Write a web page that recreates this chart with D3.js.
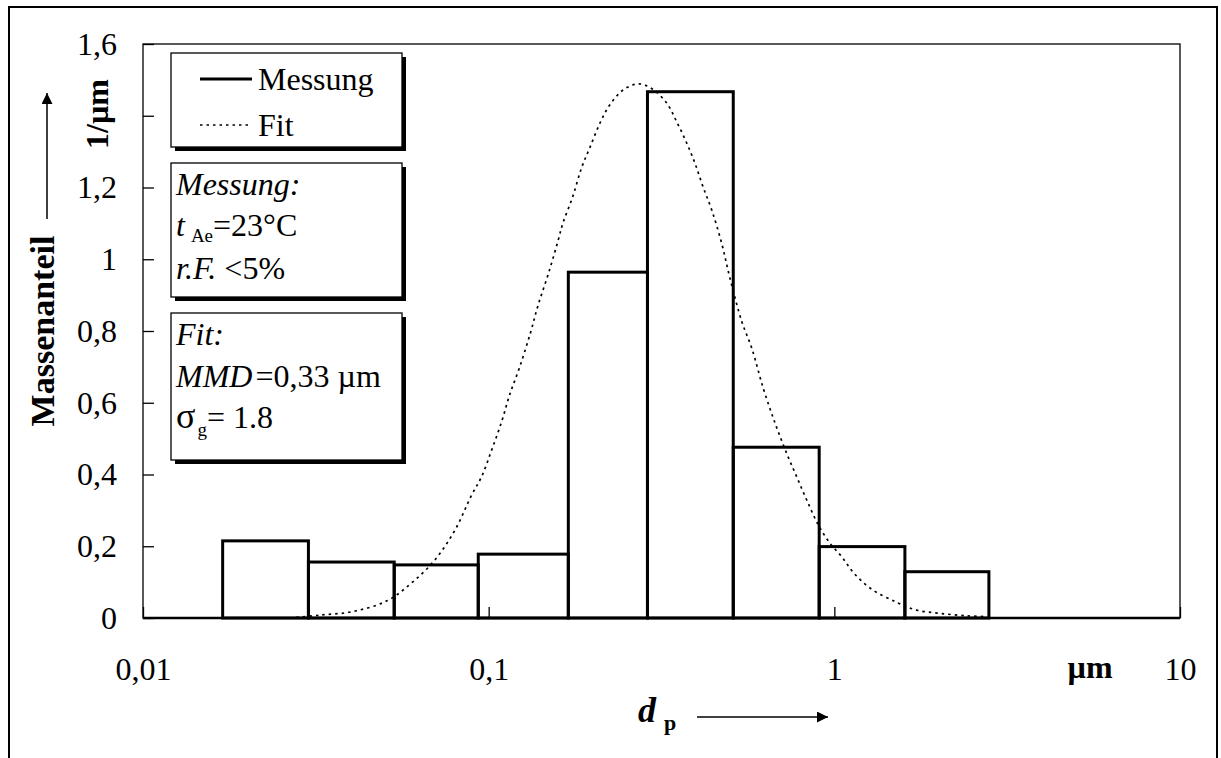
<!DOCTYPE html>
<html>
<head>
<meta charset="utf-8">
<script src="https://cdn.jsdelivr.net/npm/d3@7"></script>
<style>
  body { margin: 0; background: #fff; }
  svg { display: block; font-family: "Liberation Serif", "Times New Roman", serif; }
</style>
</head>
<body>
<div id="chart"></div>
<script>
// bin edges of the measured distribution (µm)
const binEdges = [0.0170, 0.0301, 0.0533, 0.0933, 0.170, 0.288, 0.510, 0.904, 1.60, 2.80];
// mass fraction per bin (1/µm)
const binValues = [0.215, 0.156, 0.148, 0.178, 0.964, 1.467, 0.476, 0.199, 0.129];

// fit curve
const fitD = [0.0266, 0.0325, 0.0405, 0.0508, 0.0599, 0.0699, 0.0799, 0.0893, 0.0954, 0.102,
  0.109, 0.115, 0.123, 0.132, 0.139, 0.149, 0.159, 0.164, 0.175, 0.186,
  0.196, 0.210, 0.224, 0.245, 0.271, 0.296, 0.327, 0.350, 0.374, 0.395,
  0.417, 0.442, 0.472, 0.499, 0.540, 0.577, 0.623, 0.674, 0.728, 0.778,
  0.832, 0.899, 0.972, 1.05, 1.13, 1.27, 1.52, 1.73, 2.02, 2.42, 2.76];
const fitQ = [0, 0.008, 0.018, 0.048, 0.098, 0.162, 0.245, 0.343, 0.394, 0.468,
  0.547, 0.622, 0.700, 0.794, 0.872, 0.961, 1.054, 1.101, 1.174, 1.257,
  1.310, 1.380, 1.430, 1.472, 1.489, 1.476, 1.436, 1.383, 1.324, 1.268,
  1.202, 1.137, 1.045, 0.947, 0.826, 0.752, 0.640, 0.543, 0.459, 0.394,
  0.329, 0.259, 0.208, 0.171, 0.129, 0.083, 0.043, 0.022, 0.013, 0.006, 0.004];

const yTicks = [0, 0.2, 0.4, 0.6, 0.8, 1.0, 1.2, 1.4, 1.6];
const xTicks = [0.01, 0.1, 1, 10];

const width = 1221, height = 758;
const plot = {left: 143, top: 44, right: 1180, bottom: 618};
const FS = 32;

const svg = d3.select("#chart").append("svg")
  .attr("width", width)
  .attr("height", height);

svg.append("rect").attr("width", width).attr("height", height).attr("fill", "#fff");

// outer frame (bottom edge runs off the page)
svg.append("path")
  .attr("d", `M9,${height + 5}V7H1217V${height + 5}`)
  .attr("fill", "none").attr("stroke", "#000").attr("stroke-width", 2);

const x = d3.scaleLog().domain([0.01, 10]).range([plot.left, plot.right]);
const y = d3.scaleLinear().domain([0, 1.6]).range([plot.bottom, plot.top]);

const comma = v => String(+v.toFixed(2)).replace(".", ",");

// y axis, ticks point inward, no label at 1,4 (the unit sits there)
const yAxis = svg.append("g")
  .attr("transform", `translate(${plot.left},0)`)
  .call(d3.axisLeft(y).tickValues(yTicks).tickSize(-11).tickPadding(26)
    .tickFormat(d => Math.abs(d - 1.4) < 1e-9 ? "" : comma(d)))
  .attr("font-family", null).attr("font-size", FS);
yAxis.select(".domain").remove();
yAxis.selectAll("line").attr("stroke", "#000").attr("stroke-width", 1.3);
yAxis.selectAll("text").attr("fill", "#000");

// x axis
const xAxis = svg.append("g")
  .attr("transform", `translate(0,${plot.bottom})`)
  .call(d3.axisBottom(x).tickValues(xTicks).tickSize(-11).tickPadding(39)
    .tickFormat(d => comma(d)))
  .attr("font-family", null).attr("font-size", FS);
xAxis.select(".domain").remove();
xAxis.selectAll("line").attr("stroke", "#000").attr("stroke-width", 1.3);
xAxis.selectAll("text").attr("fill", "#000");

// plot frame
svg.append("rect")
  .attr("x", plot.left).attr("y", plot.top)
  .attr("width", plot.right - plot.left).attr("height", plot.bottom - plot.top)
  .attr("fill", "none").attr("stroke", "#000").attr("stroke-width", 1.3);

// histogram bars
const bins = binValues.map((v, i) => ({lo: binEdges[i], hi: binEdges[i + 1], v}));
svg.append("g")
  .selectAll("rect")
  .data(bins)
  .enter()
  .append("rect")
  .attr("x", d => x(d.lo))
  .attr("y", d => y(d.v))
  .attr("width", d => x(d.hi) - x(d.lo))
  .attr("height", d => y(0) - y(d.v))
  .attr("fill", "none")
  .attr("stroke", "#000")
  .attr("stroke-width", 3);

svg.append("line")
  .attr("x1", plot.left).attr("x2", plot.right)
  .attr("y1", plot.bottom).attr("y2", plot.bottom)
  .attr("stroke", "#000").attr("stroke-width", 2.5);

// fit curve, dotted
const fit = fitD.map((d, i) => [d, fitQ[i]]);
svg.append("path")
  .datum(fit)
  .attr("d", d3.line().x(d => x(d[0])).y(d => y(d[1])).curve(d3.curveCatmullRom))
  .attr("fill", "none")
  .attr("stroke", "#000")
  .attr("stroke-width", 1.7)
  .attr("stroke-dasharray", "2.5,4");

// boxes with drop shadow
function box(bx, by, bw, bh) {
  svg.append("rect").attr("x", bx + 4).attr("y", by + 4).attr("width", bw).attr("height", bh).attr("fill", "#000");
  svg.append("rect").attr("x", bx).attr("y", by).attr("width", bw).attr("height", bh)
    .attr("fill", "#fff").attr("stroke", "#000").attr("stroke-width", 1.3);
}
box(171, 53, 231, 94);
box(171, 163, 231, 134);
box(171, 313, 231, 147);

// legend
svg.append("line").attr("x1", 200).attr("x2", 252).attr("y1", 79).attr("y2", 79)
  .attr("stroke", "#000").attr("stroke-width", 3);
svg.append("line").attr("x1", 200).attr("x2", 252).attr("y1", 125).attr("y2", 125)
  .attr("stroke", "#000").attr("stroke-width", 1.7).attr("stroke-dasharray", "2.5,4");
svg.append("text").attr("x", 258).attr("y", 90).attr("font-size", FS).text("Messung");
svg.append("text").attr("x", 258).attr("y", 136).attr("font-size", FS).text("Fit");

// measurement conditions
const tx = 176;
svg.append("text").attr("x", tx).attr("y", 195).attr("font-size", FS).attr("font-style", "italic").text("Messung:");
const t1 = svg.append("text").attr("x", tx).attr("y", 236).attr("font-size", FS);
t1.append("tspan").attr("font-style", "italic").text("t");
t1.append("tspan").attr("font-size", 19).attr("dx", 6).attr("dy", 6).text("Ae");
t1.append("tspan").attr("dy", -6).text("=23°C");
const t2 = svg.append("text").attr("x", tx).attr("y", 279).attr("font-size", FS);
t2.append("tspan").attr("font-style", "italic").text("r.F.");
t2.append("tspan").text(" <5%");

// fit parameters
svg.append("text").attr("x", tx).attr("y", 345).attr("font-size", FS).attr("font-style", "italic").text("Fit:");
const t3 = svg.append("text").attr("x", tx).attr("y", 387).attr("font-size", FS);
t3.append("tspan").attr("font-style", "italic").text("MMD");
t3.append("tspan").attr("dx", 3).text("=0,33 µm");
const t4 = svg.append("text").attr("x", tx).attr("y", 428).attr("font-size", FS);
t4.append("tspan").attr("font-size", 36).text("σ");
t4.append("tspan").attr("font-size", 19).attr("dx", 2).attr("dy", 8).text("g");
t4.append("tspan").attr("dy", -8).text("= 1.8");

// axis titles
svg.append("text")
  .attr("transform", "translate(54,331) rotate(-90)")
  .attr("text-anchor", "middle").attr("font-size", 34).attr("font-weight", "bold")
  .text("Massenanteil");
svg.append("text")
  .attr("transform", "translate(108,114) rotate(-90)")
  .attr("text-anchor", "middle").attr("font-size", FS).attr("font-weight", "bold")
  .text("1/µm");

svg.append("defs").append("marker")
  .attr("id", "arrow").attr("viewBox", "0 0 10 10")
  .attr("refX", 10).attr("refY", 5)
  .attr("markerWidth", 15).attr("markerHeight", 11)
  .attr("markerUnits", "userSpaceOnUse")
  .attr("orient", "auto")
  .append("path").attr("d", "M0,0L10,5L0,10Z").attr("fill", "#000");

svg.append("line").attr("x1", 47).attr("x2", 47).attr("y1", 219).attr("y2", 93)
  .attr("stroke", "#000").attr("stroke-width", 1.5).attr("marker-end", "url(#arrow)");

const xt = svg.append("text").attr("x", 638).attr("y", 722).attr("font-size", 36).attr("font-weight", "bold");
xt.append("tspan").attr("font-style", "italic").text("d");
xt.append("tspan").attr("font-size", 22).attr("dx", 8).attr("dy", 8).text("p");
svg.append("line").attr("x1", 697).attr("x2", 828).attr("y1", 717).attr("y2", 717)
  .attr("stroke", "#000").attr("stroke-width", 1.5).attr("marker-end", "url(#arrow)");

svg.append("text").attr("x", 1090).attr("y", 678).attr("text-anchor", "middle")
  .attr("font-size", FS).attr("font-weight", "bold").text("µm");
</script>
</body>
</html>
